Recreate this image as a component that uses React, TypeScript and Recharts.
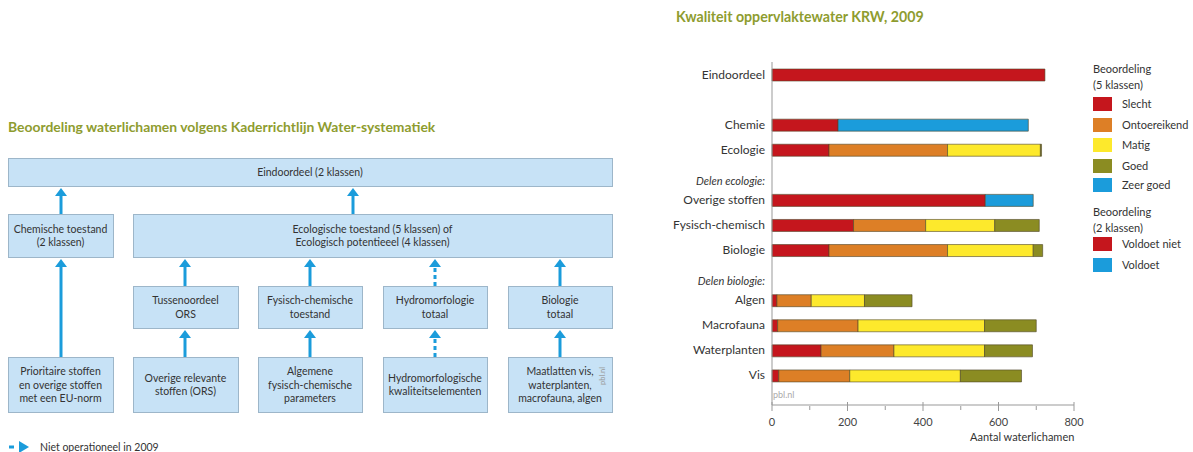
import { BarChart, Bar, XAxis, YAxis, CartesianGrid } from "recharts";

// rows of the bar chart, top to bottom
const categories = [
  "Eindoordeel",
  "",
  "Chemie",
  "Ecologie",
  "Delen ecologie:",
  "Overige stoffen",
  "Fysisch-chemisch",
  "Biologie",
  "Delen biologie:",
  "Algen",
  "Macrofauna",
  "Waterplanten",
  "Vis",
];
const headerRows = ["Delen ecologie:", "Delen biologie:"];

// 2 klassen
const voldoetNiet = [723, 0, 175, 0, 0, 565, 0, 0, 0, 0, 0, 0, 0];
const voldoet = [0, 0, 504, 0, 0, 127, 0, 0, 0, 0, 0, 0, 0];
// 5 klassen
const slecht = [0, 0, 0, 151, 0, 0, 216, 151, 0, 13, 15, 130, 18];
const ontoereikend = [0, 0, 0, 314, 0, 0, 191, 314, 0, 91, 213, 193, 188];
const matig = [0, 0, 0, 246, 0, 0, 183, 227, 0, 141, 335, 240, 293];
const goed = [0, 0, 0, 3, 0, 0, 118, 25, 0, 126, 137, 127, 162];
const zeerGoed = [0, 0, 0, 0, 0, 0, 0, 0, 0, 0, 0, 0, 0];

const xTicks = [0, 100, 200, 300, 400, 500, 600, 700, 800];
const gridValues = [200, 400, 600];

const RED = "#c5161d";
const ORANGE = "#dd7f26";
const YELLOW = "#fde92c";
const OLIVE = "#8b8c22";
const BLUE = "#1b9cdb";
const GREEN_TITLE = "#8e9c2f";

const legend5 = [
  { label: "Slecht", color: RED },
  { label: "Ontoereikend", color: ORANGE },
  { label: "Matig", color: YELLOW },
  { label: "Goed", color: OLIVE },
  { label: "Zeer goed", color: BLUE },
];
const legend2 = [
  { label: "Voldoet niet", color: RED },
  { label: "Voldoet", color: BLUE },
];

const data = categories.map((name, i) => ({
  name,
  voldoetNiet: voldoetNiet[i],
  slecht: slecht[i],
  ontoereikend: ontoereikend[i],
  matig: matig[i],
  goed: goed[i],
  zeerGoed: zeerGoed[i],
  voldoet: voldoet[i],
}));

const FONT = "Lato, 'Open Sans', sans-serif";
const BAR_STROKE = "#4e4426";

function CategoryTick(props: any) {
  const { x, y, payload } = props;
  const isHeader = headerRows.includes(payload.value);
  return (
    <text
      x={x + 1}
      y={y + (isHeader ? 6 : 0)}
      dy={4}
      textAnchor="end"
      fontSize={isHeader ? 11 : 12}
      fontStyle={isHeader ? "italic" : "normal"}
      fill="#333"
      fontFamily={FONT}
    >
      {payload.value}
    </text>
  );
}

function ValueTick(props: any) {
  const { x, y, payload } = props;
  const major = payload.value % 200 === 0;
  return (
    <g>
      <line
        x1={x}
        x2={x}
        y1={y - (major ? 5 : 1)}
        y2={y + (major ? 4 : 3)}
        stroke="#999"
        strokeWidth={1}
      />
      {major && (
        <text
          x={x}
          y={y + 19}
          textAnchor="middle"
          fontSize={11}
          fill="#444"
          fontFamily={FONT}
        >
          {payload.value}
        </text>
      )}
    </g>
  );
}

type BoxDef = { x: number; y: number; w: number; h: number; lines: string[] };

const boxes: BoxDef[] = [
  { x: 8, y: 158, w: 604, h: 28, lines: ["Eindoordeel (2 klassen)"] },
  { x: 8, y: 214, w: 105, h: 43, lines: ["Chemische toestand", "(2 klassen)"] },
  {
    x: 133,
    y: 214,
    w: 479,
    h: 43,
    lines: ["Ecologische toestand (5 klassen) of", "Ecologisch potentieeel (4 klassen)"],
  },
  { x: 133, y: 286, w: 105, h: 42, lines: ["Tussenoordeel", "ORS"] },
  { x: 258, y: 286, w: 104, h: 42, lines: ["Fysisch-chemische", "toestand"] },
  { x: 383, y: 286, w: 104, h: 42, lines: ["Hydromorfologie", "totaal"] },
  { x: 508, y: 286, w: 104, h: 42, lines: ["Biologie", "totaal"] },
  {
    x: 8,
    y: 357,
    w: 105,
    h: 55,
    lines: ["Prioritaire stoffen", "en overige stoffen", "met een EU-norm"],
  },
  { x: 133, y: 357, w: 105, h: 55, lines: ["Overige relevante", "stoffen (ORS)"] },
  {
    x: 258,
    y: 357,
    w: 104,
    h: 55,
    lines: ["Algemene", "fysisch-chemische", "parameters"],
  },
  {
    x: 383,
    y: 357,
    w: 104,
    h: 55,
    lines: ["Hydromorfologische", "kwaliteitselementen"],
  },
  {
    x: 508,
    y: 357,
    w: 104,
    h: 55,
    lines: ["Maatlatten vis,", "waterplanten,", "macrofauna, algen"],
  },
];

type ArrowDef = { x: number; from: number; to: number; dashed?: boolean };

const arrows: ArrowDef[] = [
  { x: 61, from: 214, to: 187 },
  { x: 353, from: 214, to: 187 },
  { x: 61, from: 357, to: 258 },
  { x: 185, from: 286, to: 258 },
  { x: 310, from: 286, to: 258 },
  { x: 435, from: 286, to: 258, dashed: true },
  { x: 560, from: 286, to: 258 },
  { x: 185, from: 357, to: 329 },
  { x: 310, from: 357, to: 329 },
  { x: 435, from: 357, to: 329, dashed: true },
  { x: 560, from: 357, to: 329 },
];

function Arrow({ x, from, to, dashed }: ArrowDef) {
  const head = 9;
  return (
    <g>
      <line
        x1={x}
        x2={x}
        y1={from}
        y2={to + head}
        stroke={BLUE}
        strokeWidth={3}
        strokeDasharray={dashed ? "4 3" : undefined}
      />
      <polygon
        points={`${x - 6},${to + head} ${x + 6},${to + head} ${x},${to + 1}`}
        fill={BLUE}
      />
    </g>
  );
}

function Diagram() {
  return (
    <svg
      width={620}
      height={452}
      style={{ position: "absolute", left: 0, top: 0 }}
      fontFamily={FONT}
    >
      <text x={8} y={132} fontSize={13.9} fontWeight={700} fill={GREEN_TITLE}>
        Beoordeling waterlichamen volgens Kaderrichtlijn Water-systematiek
      </text>
      {boxes.map((b, i) => {
        const lh = 13.5;
        const cy = b.y + b.h / 2;
        const start = cy - ((b.lines.length - 1) * lh) / 2;
        return (
          <g key={i}>
            <rect
              x={b.x + 0.5}
              y={b.y + 0.5}
              width={b.w}
              height={b.h}
              fill="#c7e2f6"
              stroke="#9db6c9"
              strokeWidth={1}
            />
            {b.lines.map((t, j) => (
              <text
                key={j}
                x={b.x + b.w / 2}
                y={start + j * lh}
                dy={4}
                textAnchor="middle"
                fontSize={10.5}
                fill="#333"
              >
                {t}
              </text>
            ))}
          </g>
        );
      })}
      {arrows.map((a, i) => (
        <Arrow key={i} {...a} />
      ))}
      <text
        x={0}
        y={0}
        fontSize={7.5}
        fill="#999"
        transform="translate(605,376) rotate(-90)"
        textAnchor="middle"
      >
        pbl.nl
      </text>
      {/* legend for the dashed arrow */}
      <line x1={9} x2={14} y1={447} y2={447} stroke={BLUE} strokeWidth={3} />
      <polygon points="19,441 19,453 29,447" fill={BLUE} />
      <text x={40} y={451} fontSize={10.5} fill="#333">
        Niet operationeel in 2009
      </text>
    </svg>
  );
}

function Swatch({ label, color, top }: { label: string; color: string; top: number }) {
  return (
    <div style={{ position: "absolute", left: 1093, top, height: 14, display: "flex", alignItems: "center" }}>
      <div style={{ width: 19, height: 14, background: color }} />
      <span style={{ marginLeft: 10, fontSize: 11, color: "#333", lineHeight: "14px" }}>{label}</span>
    </div>
  );
}

function ChartLegend() {
  const tops5 = [97, 118, 138, 159, 178];
  const tops2 = [237, 258];
  const head = { position: "absolute" as const, left: 1093, fontSize: 11, color: "#333", lineHeight: "16px" };
  return (
    <div style={{ fontFamily: FONT }}>
      <div style={{ ...head, top: 61 }}>
        Beoordeling
        <br />
        (5 klassen)
      </div>
      {legend5.map((l, i) => (
        <Swatch key={l.label} label={l.label} color={l.color} top={tops5[i]} />
      ))}
      <div style={{ ...head, top: 204 }}>
        Beoordeling
        <br />
        (2 klassen)
      </div>
      {legend2.map((l, i) => (
        <Swatch key={l.label} label={l.label} color={l.color} top={tops2[i]} />
      ))}
    </div>
  );
}

export default function App() {
  const gridGen = ({ xAxis }: any) => {
    try {
      return gridValues.map((v) => xAxis.scale(v));
    } catch {
      return [];
    }
  };
  return (
    <div
      style={{
        position: "absolute",
        left: 0,
        top: 0,
        width: 1193,
        height: 452,
        background: "#fff",
        overflow: "hidden",
        fontFamily: FONT,
      }}
    >
      <Diagram />
      <div
        style={{
          position: "absolute",
          left: 676,
          top: 8,
          fontSize: 14.2,
          fontWeight: 700,
          color: GREEN_TITLE,
        }}
      >
        Kwaliteit oppervlaktewater KRW, 2009
      </div>
      <div style={{ position: "absolute", left: 660, top: 50 }}>
        <BarChart
          width={432}
          height={395}
          data={data}
          layout="vertical"
          margin={{ top: 12, right: 18, bottom: 0, left: 0 }}
          barSize={12}
        >
          <CartesianGrid
            horizontal={false}
            stroke="#e8e8e8"
            verticalCoordinatesGenerator={gridGen}
          />
          <XAxis
            type="number"
            domain={[0, 800]}
            ticks={xTicks}
            interval={0}
            tickSize={0}
            tickLine={false}
            tick={<ValueTick />}
            axisLine={{ stroke: "#999" }}
            height={40}
          />
          <YAxis
            type="category"
            dataKey="name"
            width={112}
            tickLine={false}
            tick={<CategoryTick />}
            interval={0}
            axisLine={{ stroke: "#999" }}
            padding={{ top: 0, bottom: 17 }}
          />
          <Bar dataKey="voldoetNiet" stackId="a" fill={RED} stroke={BAR_STROKE} strokeWidth={0.6} isAnimationActive={false} />
          <Bar dataKey="slecht" stackId="a" fill={RED} stroke={BAR_STROKE} strokeWidth={0.6} isAnimationActive={false} />
          <Bar dataKey="ontoereikend" stackId="a" fill={ORANGE} stroke={BAR_STROKE} strokeWidth={0.6} isAnimationActive={false} />
          <Bar dataKey="matig" stackId="a" fill={YELLOW} stroke={BAR_STROKE} strokeWidth={0.6} isAnimationActive={false} />
          <Bar dataKey="goed" stackId="a" fill={OLIVE} stroke={BAR_STROKE} strokeWidth={0.6} isAnimationActive={false} />
          <Bar dataKey="zeerGoed" stackId="a" fill={BLUE} stroke={BAR_STROKE} strokeWidth={0.6} isAnimationActive={false} />
          <Bar dataKey="voldoet" stackId="a" fill={BLUE} stroke={BAR_STROKE} strokeWidth={0.6} isAnimationActive={false} />
        </BarChart>
      </div>
      <div style={{ position: "absolute", left: 773, top: 389, fontSize: 9, color: "#aaa" }}>pbl.nl</div>
      <div style={{ position: "absolute", left: 970, top: 430, fontSize: 11, color: "#333" }}>
        Aantal waterlichamen
      </div>
      <ChartLegend />
    </div>
  );
}
